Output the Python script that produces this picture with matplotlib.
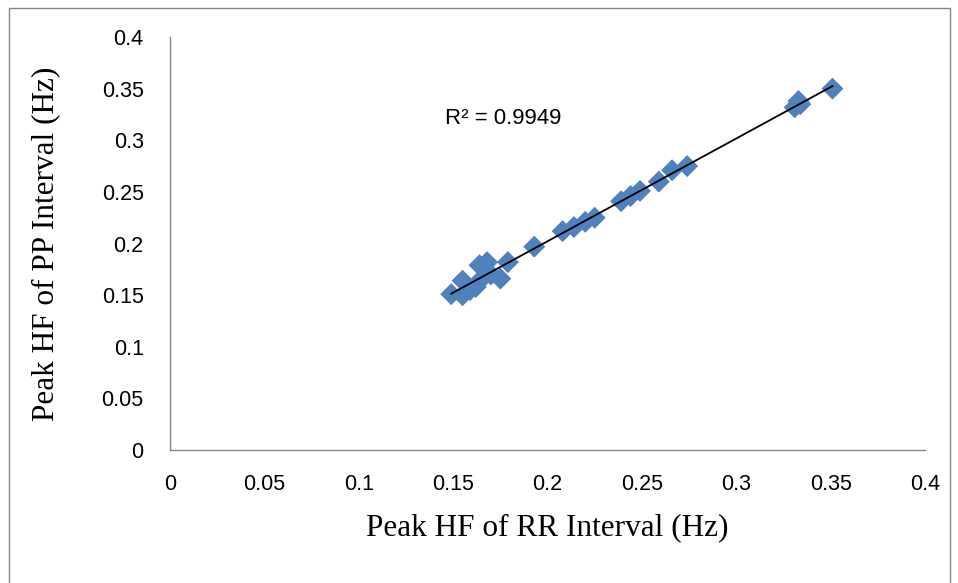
import numpy as np
import matplotlib
matplotlib.use("Agg")
import matplotlib.pyplot as plt
from matplotlib.patches import Rectangle

rr_hz = [0.149, 0.155, 0.155, 0.159, 0.162, 0.163, 0.164, 0.167, 0.168, 0.170, 0.175, 0.179,
         0.193, 0.208, 0.214, 0.220, 0.225, 0.239, 0.244, 0.249, 0.259, 0.266, 0.274,
         0.331, 0.333, 0.334, 0.351]
pp_hz = [0.151, 0.150, 0.164, 0.155, 0.158, 0.162, 0.179, 0.174, 0.182, 0.170, 0.166, 0.182,
         0.197, 0.212, 0.216, 0.221, 0.225, 0.241, 0.246, 0.251, 0.260, 0.271, 0.275,
         0.332, 0.338, 0.335, 0.350]
ticks = [0, 0.05, 0.1, 0.15, 0.2, 0.25, 0.3, 0.35, 0.4]
tick_labels = ["0", "0.05", "0.1", "0.15", "0.2", "0.25", "0.3", "0.35", "0.4"]
r2_text = "R² = 0.9949"

fig = plt.figure(figsize=(9.58, 5.83), dpi=100)
ax = fig.add_axes([0.1775, 0.228, 0.788, 0.7085])

x = np.array(rr_hz)
y = np.array(pp_hz)
ax.scatter(x, y, marker="D", s=125, color="#4F81BD", edgecolors="none", zorder=2)
m, b = np.polyfit(x, y, 1)
xl = np.array([x.min(), x.max()])
ax.plot(xl, m * xl + b, color="black", lw=1.3, zorder=3)

ax.set_xlim(0, 0.4)
ax.set_ylim(0, 0.4)
ax.set_xticks(ticks)
ax.set_xticklabels(tick_labels)
ax.set_yticks(ticks)
ax.set_yticklabels(tick_labels)
ax.tick_params(length=0, labelsize=15.5, colors="black")
for lab in ax.get_xticklabels() + ax.get_yticklabels():
    lab.set_fontfamily("Liberation Sans")
ax.tick_params(axis="y", pad=19)
ax.tick_params(axis="x", pad=17)
for s in ["top", "right"]:
    ax.spines[s].set_visible(False)
for s in ["left", "bottom"]:
    ax.spines[s].set_color("#868686")
    ax.spines[s].set_linewidth(1.0)

ax.set_xlabel("Peak HF of RR Interval (Hz)", fontfamily="Liberation Serif", fontsize=22.5, labelpad=13)
ax.set_ylabel("Peak HF of PP Interval (Hz)", fontfamily="Liberation Serif", fontsize=22.5, labelpad=30)
ax.text(0.1457, 0.3215, r2_text, fontfamily="Liberation Sans", fontsize=16, va="center", ha="left")

fig.patches.append(Rectangle((9 / 958, -0.02), (950 - 9) / 958, 1.02 - 8 / 583,
                             transform=fig.transFigure, fill=False, edgecolor="#868686", lw=1.0))

fig.savefig("out.png", dpi=100)
